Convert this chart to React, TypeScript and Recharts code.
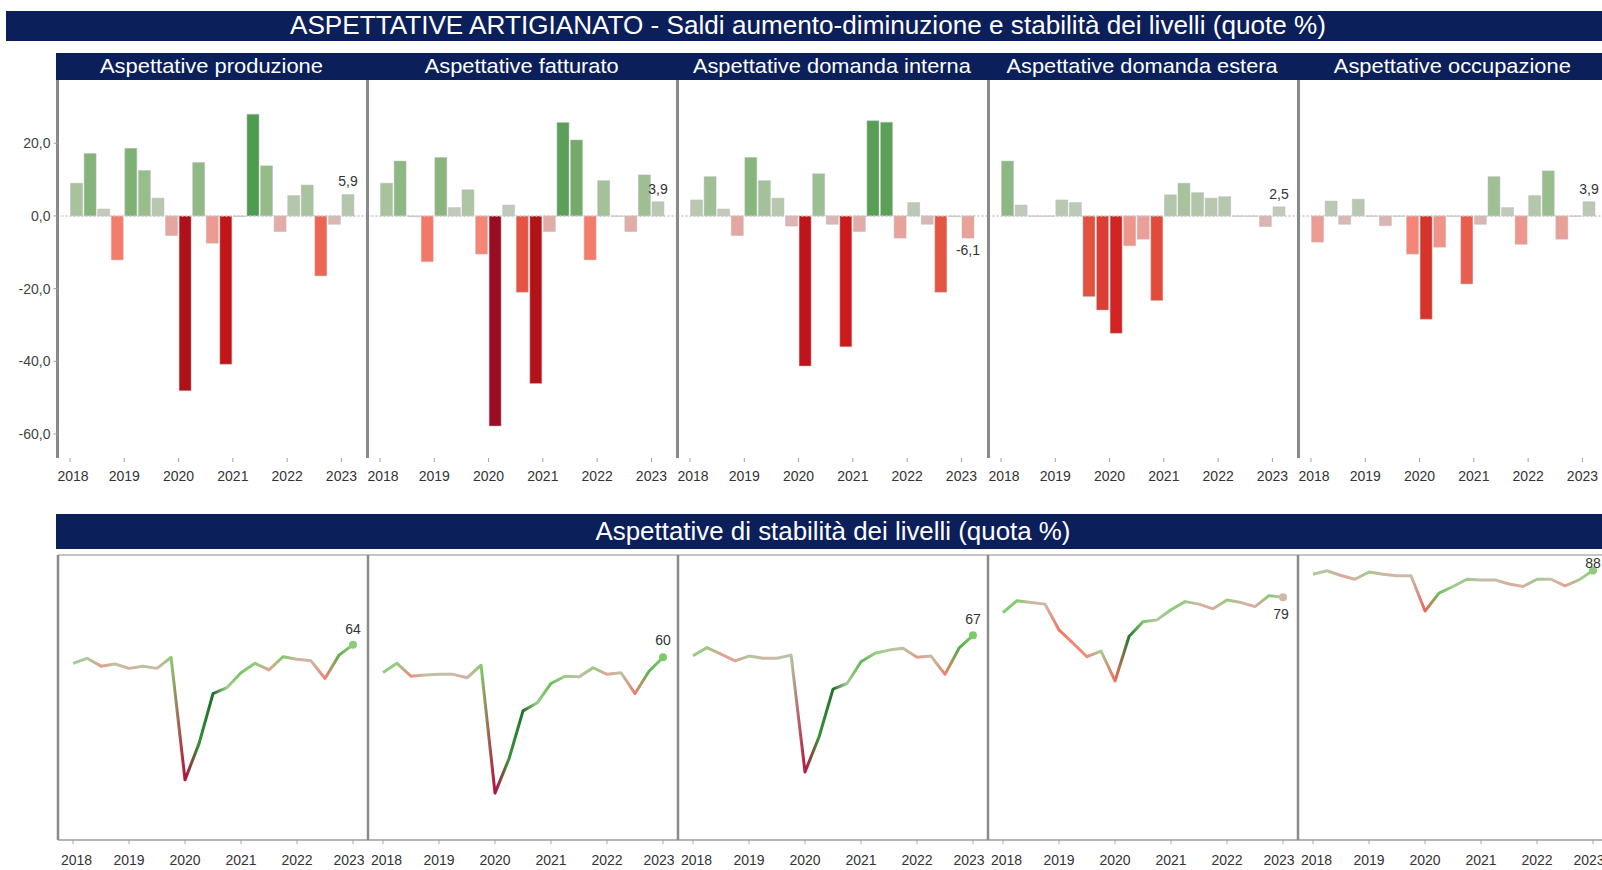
import { BarChart, Bar, Cell, XAxis, YAxis, ReferenceLine, LabelList, LineChart, Line } from 'recharts';

const quarters = [
  '2018-1', '2018-2', '2018-3', '2018-4',
  '2019-1', '2019-2', '2019-3', '2019-4',
  '2020-1', '2020-2', '2020-3', '2020-4',
  '2021-1', '2021-2', '2021-3', '2021-4',
  '2022-1', '2022-2', '2022-3', '2022-4',
  '2023-1',
];

const panelTitles = [
  'Aspettative produzione',
  'Aspettative fatturato',
  'Aspettative domanda interna',
  'Aspettative domanda estera',
  'Aspettative occupazione',
];

// saldi aumento-diminuzione
const saldoProduzione = [9.0, 17.2, 1.9, -12.1, 18.6, 12.5, 4.9, -5.4, -48.1, 14.7, -7.5, -40.8, -0.2, 28.0, 13.8, -4.3, 5.6, 8.5, -16.5, -2.3, 5.9];
const saldoFatturato = [9.0, 15.1, -0.2, -12.6, 16.1, 2.3, 7.2, -10.5, -57.8, 3.0, -21.0, -46.1, -4.3, 25.7, 20.9, -12.1, 9.7, -0.1, -4.3, 11.3, 3.9];
const saldoDomandaInterna = [4.4, 10.8, 1.9, -5.4, 16.1, 9.7, 4.9, -2.8, -41.3, 11.6, -2.3, -36.0, -4.3, 26.2, 25.8, -6.1, 3.7, -2.3, -21.0, -0.2, -6.1];
const saldoDomandaEstera = [15.1, 3.0, -0.1, -0.1, 4.4, 3.7, -22.2, -25.9, -32.3, -8.2, -6.4, -23.3, 5.8, 9.0, 6.4, 4.9, 5.3, -0.1, -0.1, -2.9, 2.5];
const saldoOccupazione = [-7.2, 4.1, -2.3, 4.6, -0.1, -2.7, -0.1, -10.5, -28.4, -8.6, -0.1, -18.7, -2.3, 10.8, 2.3, -7.8, 5.6, 12.4, -6.4, -0.1, 3.9];

// quote di stabilità
const stabProduzione = [58.1, 59.7, 57.2, 57.9, 56.5, 57.2, 56.5, 60.0, 21.1, 32.6, 48.5, 50.4, 55.1, 58.1, 56.0, 60.2, 59.4, 58.9, 53.3, 60.7, 64.0];
const stabFatturato = [55.2, 58.1, 54.0, 54.4, 54.6, 54.6, 53.5, 57.5, 16.9, 27.8, 43.0, 45.5, 51.7, 54.0, 53.8, 56.7, 54.6, 55.1, 48.5, 55.6, 60.0];
const stabDomandaInterna = [60.5, 63.1, 61.0, 58.9, 60.4, 59.7, 59.7, 60.7, 23.6, 34.7, 49.9, 51.7, 58.6, 61.3, 62.3, 62.9, 60.0, 60.4, 54.6, 62.9, 67.0];
const stabDomandaEstera = [74.2, 78.0, 77.4, 76.9, 68.7, 64.5, 60.2, 62.0, 52.5, 66.6, 71.3, 71.9, 75.1, 77.7, 76.9, 75.4, 78.2, 77.4, 76.1, 79.6, 79.1];
const stabOccupazione = [86.4, 87.5, 86.0, 84.8, 87.1, 86.4, 85.9, 85.9, 74.7, 80.4, 82.5, 84.8, 84.6, 84.6, 83.3, 82.5, 84.8, 84.8, 82.7, 84.6, 87.6];

const saldi = [saldoProduzione, saldoFatturato, saldoDomandaInterna, saldoDomandaEstera, saldoOccupazione];
const stabilita = [stabProduzione, stabFatturato, stabDomandaInterna, stabDomandaEstera, stabOccupazione];

const yTicks = [-60, -40, -20, 0, 20];

const NAVY = '#0b1f5b';
const FONT = '"Liberation Sans", Arial, Helvetica, sans-serif';
const PANEL_LEFT = [57.5, 367.7, 677.9, 988.1, 1298.3];
const PANEL_W = 310;
const Y_AXIS_W = 57.5;
const BAR_PAD = 12.5;
const LINE_AXIS_W = 4;

// colore barre in base al valore
const BAR_STOPS: [number, string][] = [
  [-58, '#9a0b24'], [-46, '#b31219'], [-38, '#c8161a'], [-30, '#d62b26'],
  [-22, '#e2513f'], [-15, '#f06a5a'], [-11, '#f78272'], [-7, '#eb9d94'],
  [-3, '#ddb3b0'], [0, '#c9c9c1'], [3, '#bfcab8'], [8, '#aac49f'],
  [13, '#97bd8c'], [18, '#82b276'], [22, '#6ea966'], [28, '#4f9b4f'],
];

// colore linea in base alla variazione congiunturale
const LINE_STOPS: [number, string][] = [
  [-40, '#b80d3e'], [-20, '#c8384a'], [-10, '#f06a5a'], [-4, '#f08c7c'],
  [-1, '#d8b0a0'], [0, '#c6bdaa'], [1.5, '#a8cc98'], [4, '#7fcc6c'],
  [8, '#56b04a'], [12, '#2f8a34'], [16, '#1f6b2b'],
];

function hex(c: string) {
  return [1, 3, 5].map((k) => parseInt(c.slice(k, k + 2), 16));
}

function scaleColor(stops: [number, string][], v: number) {
  if (v <= stops[0][0]) return stops[0][1];
  for (let i = 1; i < stops.length; i++) {
    if (v <= stops[i][0]) {
      const [a, ca] = stops[i - 1];
      const [b, cb] = stops[i];
      const t = (v - a) / (b - a);
      const A = hex(ca), B = hex(cb);
      const rgb = A.map((x, k) => Math.round(x + (B[k] - x) * t));
      return `rgb(${rgb.join(',')})`;
    }
  }
  return stops[stops.length - 1][1];
}

const fmt = (v: number) => v.toFixed(1).replace('.', ',');

function YearTick(props: any) {
  const { x, y, payload, shift, dy, firstAdj, lastAdj } = props;
  let labelDx = 0;
  if (payload.value === quarters[0]) labelDx = firstAdj;
  if (payload.value === quarters[quarters.length - 1]) labelDx = lastAdj;
  return (
    <g transform={`translate(${x + shift},${y})`}>
      <line x1={0} x2={0} y1={0} y2={4} stroke="#a0a0a0" strokeWidth={1} />
      <text x={labelDx} y={dy} textAnchor="middle" fontSize={14} fill="#333" fontFamily={FONT}>
        {String(payload.value).slice(0, 4)}
      </text>
    </g>
  );
}

const BarEndLabel = (props: any) => {
  const { x, y, width, height, value, index } = props;
  if (index !== quarters.length - 1) return null;
  const top = Math.min(y, y + height);
  const bottom = Math.max(y, y + height);
  const ty = value >= 0 ? top - 8 : bottom + 17;
  return (
    <text x={x + width / 2} y={ty} textAnchor="middle" fontSize={14} fill="#333" fontFamily={FONT}>
      {fmt(value)}
    </text>
  );
};

function BarPanel({ idx }: { idx: number }) {
  const values = saldi[idx];
  const data = quarters.map((q, i) => ({ q, v: values[i] }));
  const bandShift = -(PANEL_W - 2 * BAR_PAD) / quarters.length / 2;
  return (
    <div style={{ position: 'absolute', left: PANEL_LEFT[idx] - Y_AXIS_W, top: 80 }}>
      <BarChart
        width={Y_AXIS_W + PANEL_W}
        height={408}
        data={data}
        margin={{ top: 0, right: 0, bottom: 0, left: 0 }}
        barCategoryGap="4%"
      >
        <XAxis
          dataKey="q"
          scale="band"
          padding={{ left: BAR_PAD, right: BAR_PAD }}
          interval={3}
          axisLine={false}
          tickLine={false}
          tickSize={0}
          tickMargin={0}
          height={30}
          tick={(p: any) => <YearTick {...p} shift={bandShift} dy={23} firstAdj={3} lastAdj={0} />}
        />
        <YAxis
          width={Y_AXIS_W}
          domain={[-66.6, 37.4]}
          allowDataOverflow
          ticks={yTicks}
          tickFormatter={fmt}
          tick={idx === 0 ? { fontSize: 14, fill: '#444' } : false}
          tickLine={idx === 0 ? { stroke: '#a0a0a0' } : false}
          tickSize={4}
          tickMargin={3}
          axisLine={{ stroke: '#8a8a8a', strokeWidth: 3 }}
        />
        <ReferenceLine y={0} stroke="#c8c8c8" strokeDasharray="2 2" strokeWidth={1.5} />
        <Bar dataKey="v" isAnimationActive={false} stroke="#bdbdbd" strokeWidth={0.5}>
          {data.map((d, i) => (
            <Cell key={`b-${i}`} fill={scaleColor(BAR_STOPS, d.v)} />
          ))}
          <LabelList dataKey="v" content={BarEndLabel} />
        </Bar>
      </BarChart>
    </div>
  );
}

const lineLabelDy = [-16, -17, -16, 17, -7];

function LinePanel({ idx }: { idx: number }) {
  const values = stabilita[idx];
  const data = quarters.map((q, i) => ({ q, v: values[i] }));
  const colors = values.map((v, i) => scaleColor(LINE_STOPS, i === 0 ? values[1] - values[0] : v - values[i - 1]));
  const gid = `stab-grad-${idx}`;
  const last = quarters.length - 1;

  const EndDot = (p: any) => {
    if (p.index !== last) return <g key={`d-${p.index}`} />;
    return <circle key={`d-${p.index}`} cx={p.cx} cy={p.cy} r={4} fill={colors[last]} />;
  };

  const EndLabel = (p: any) => {
    if (p.index !== last) return null;
    const below = lineLabelDy[idx] > 0;
    return (
      <text
        x={p.x - (below ? 2 : 0)}
        y={p.y + lineLabelDy[idx] + 5}
        textAnchor="middle"
        fontSize={14}
        fill="#333"
        fontFamily={FONT}
      >
        {Math.round(p.value)}
      </text>
    );
  };

  return (
    <div style={{ position: 'absolute', left: PANEL_LEFT[idx] - LINE_AXIS_W, top: 545 }}>
      <LineChart
        width={PANEL_W + LINE_AXIS_W}
        height={325}
        data={data}
        margin={{ top: 10, right: 0, bottom: 0, left: 0 }}
      >
        <defs>
          <linearGradient id={gid} x1="0" y1="0" x2="1" y2="0">
            {colors.map((c, i) => (
              <stop key={i} offset={i / last} stopColor={c} />
            ))}
          </linearGradient>
        </defs>
        <XAxis
          dataKey="q"
          scale="point"
          padding={{ left: 15, right: 15 }}
          interval={3}
          axisLine={{ stroke: '#b4b4b4', strokeWidth: 2 }}
          tickLine={false}
          tickSize={0}
          tickMargin={0}
          height={30}
          tick={(p: any) => <YearTick {...p} shift={0} dy={25} firstAdj={3.5} lastAdj={-4} />}
        />
        <YAxis
          width={LINE_AXIS_W}
          domain={[2, 92.5]}
          allowDataOverflow
          tick={false}
          tickLine={false}
          axisLine={{ stroke: '#8a8a8a', strokeWidth: 2.5 }}
        />
        <ReferenceLine y={92.5} stroke="#c4c4c4" strokeWidth={2} />
        <Line
          dataKey="v"
          type="linear"
          stroke={`url(#${gid})`}
          strokeWidth={3}
          strokeLinejoin="round"
          dot={EndDot}
          activeDot={false}
          isAnimationActive={false}
        >
          <LabelList dataKey="v" content={EndLabel} />
        </Line>
      </LineChart>
    </div>
  );
}

function Frame() {
  return (
    <svg width={1602} height={870} style={{ position: 'absolute', left: 0, top: 0 }}>
      <rect x={6} y={11} width={1596} height={30} fill={NAVY} />
      <text x={808} y={34} textAnchor="middle" fill="#fff" fontSize={25} fontFamily={FONT} textLength={1036} lengthAdjust="spacingAndGlyphs">
        ASPETTATIVE ARTIGIANATO - Saldi aumento-diminuzione e stabilità dei livelli (quote %)
      </text>
      <rect x={56} y={53} width={1546} height={27} fill={NAVY} />
      {panelTitles.map((t, i) => (
        <text
          key={t}
          x={PANEL_LEFT[i] + 154}
          y={73}
          textAnchor="middle"
          fill="#fff"
          fontSize={21}
          fontFamily={FONT}
          textLength={[223, 194, 278, 271, 237][i]}
          lengthAdjust="spacingAndGlyphs"
        >
          {t}
        </text>
      ))}
      <rect x={56} y={514} width={1546} height={35} fill={NAVY} />
      <text x={833} y={540} textAnchor="middle" fill="#fff" fontSize={25} fontFamily={FONT} textLength={475} lengthAdjust="spacingAndGlyphs">
        Aspettative di stabilità dei livelli (quota %)
      </text>
    </svg>
  );
}

export default function App() {
  return (
    <div style={{ position: 'relative', width: 1602, height: 870, overflow: 'hidden', background: '#fff', fontFamily: FONT }}>
      <style>{'body{margin:0}'}</style>
      <Frame />
      {saldi.map((_, i) => (
        <BarPanel key={`bar-${i}`} idx={i} />
      ))}
      {stabilita.map((_, i) => (
        <LinePanel key={`line-${i}`} idx={i} />
      ))}
    </div>
  );
}
